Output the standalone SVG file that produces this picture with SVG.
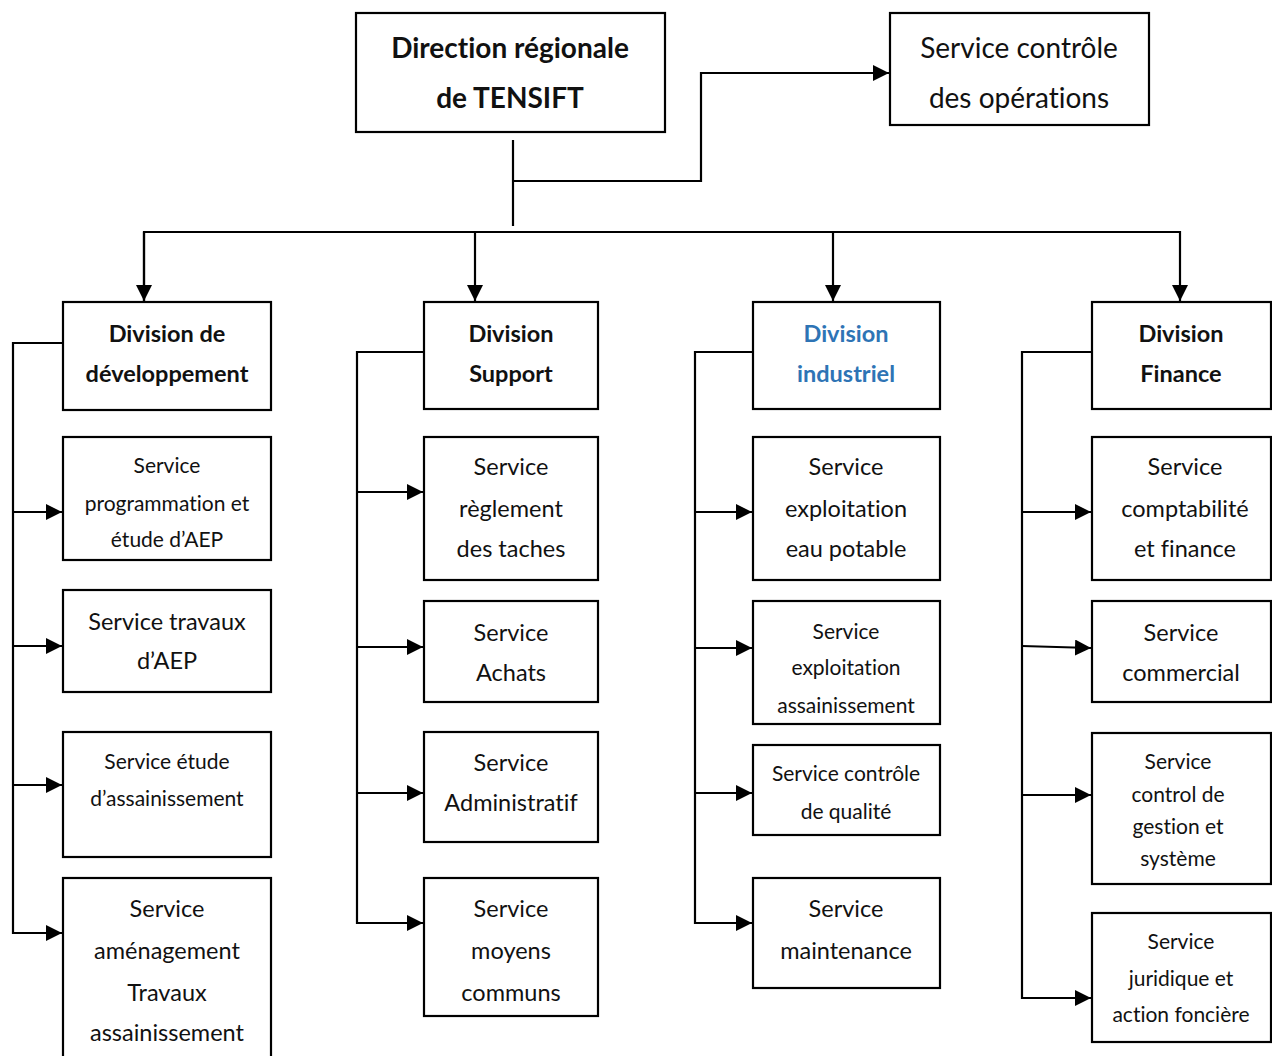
<svg xmlns="http://www.w3.org/2000/svg" width="1272" height="1056" viewBox="0 0 1272 1056">
<style>
.box{fill:#fff;stroke:#000;stroke-width:2.2}
.ln{fill:none;stroke:#000;stroke-width:2.2}
text{font-family:Lato,"Open Sans","Liberation Sans",sans-serif;text-anchor:middle;dominant-baseline:central;fill:#111;font-variant-ligatures:none}
.b{font-weight:bold}
.big{font-size:28px}
.m{font-size:23.5px}
.s{font-size:21px}
.blue{fill:#2E74B5}
</style>
<defs>
<marker id="ah" markerUnits="userSpaceOnUse" markerWidth="18" markerHeight="16" refX="16" refY="8" orient="auto">
<path d="M0,0 L16,8 L0,16 z" fill="#000"/>
</marker>
</defs>
<g id="connectors">
<path class="ln" d="M513,140 V226"/>
<path class="ln" d="M513,181 H701 V73 H889" marker-end="url(#ah)"/>
<path class="ln" d="M144,301 V232 H1180 V301" marker-end="url(#ah)"/>
<path class="ln" d="M144,232 V301" marker-end="url(#ah)"/>
<path class="ln" d="M475,232 V301" marker-end="url(#ah)"/>
<path class="ln" d="M833,232 V301" marker-end="url(#ah)"/>
<path class="ln" d="M63,343 H13 V933 H62" marker-end="url(#ah)"/>
<path class="ln" d="M13,512 H62" marker-end="url(#ah)"/>
<path class="ln" d="M13,646 H62" marker-end="url(#ah)"/>
<path class="ln" d="M13,785 H62" marker-end="url(#ah)"/>
<path class="ln" d="M424,352 H357 V923 H423" marker-end="url(#ah)"/>
<path class="ln" d="M357,492 H423" marker-end="url(#ah)"/>
<path class="ln" d="M357,647 H423" marker-end="url(#ah)"/>
<path class="ln" d="M357,793 H423" marker-end="url(#ah)"/>
<path class="ln" d="M753,352 H695 V923 H752" marker-end="url(#ah)"/>
<path class="ln" d="M695,512 H752" marker-end="url(#ah)"/>
<path class="ln" d="M695,648 H752" marker-end="url(#ah)"/>
<path class="ln" d="M695,793 H752" marker-end="url(#ah)"/>
<path class="ln" d="M1092,352 H1022 V998 H1091" marker-end="url(#ah)"/>
<path class="ln" d="M1022,512 H1091" marker-end="url(#ah)"/>
<path class="ln" d="M1022,646 L1091,648" marker-end="url(#ah)"/>
<path class="ln" d="M1022,795 H1091" marker-end="url(#ah)"/>
</g>
<g id="direction"><rect class="box" x="356" y="13" width="309" height="119"/><text class="b big" x="510" y="47">Direction régionale</text><text class="b big" x="510" y="97">de TENSIFT</text></g>
<g id="controle-operations"><rect class="box" x="890" y="13" width="259" height="112"/><text class="big" x="1019" y="47">Service contrôle</text><text class="big" x="1019" y="97">des opérations</text></g>

<g id="div-dev"><rect class="box" x="63" y="302" width="208" height="108"/><text class="b m" x="167" y="333">Division de</text><text class="b m" x="167" y="373">développement</text></g>
<g id="svc-prog"><rect class="box" x="63" y="437" width="208" height="123"/><text class="s" x="167" y="464">Service</text><text class="s" x="167" y="502">programmation et</text><text class="s" x="167" y="538">étude d’AEP</text></g>
<g id="svc-travaux-aep"><rect class="box" x="63" y="590" width="208" height="102"/><text class="m" x="167" y="621">Service travaux</text><text class="m" x="167" y="660">d’AEP</text></g>
<g id="svc-etude-ass"><rect class="box" x="63" y="732" width="208" height="125"/><text class="s" x="167" y="760">Service étude</text><text class="s" x="167" y="797">d’assainissement</text></g>
<g id="svc-amenagement"><rect class="box" x="63" y="878" width="208" height="182"/><text class="m" x="167" y="908">Service</text><text class="m" x="167" y="950">aménagement</text><text class="m" x="167" y="992">Travaux</text><text class="m" x="167" y="1032">assainissement</text></g>

<g id="div-support"><rect class="box" x="424" y="302" width="174" height="107"/><text class="b m" x="511" y="333">Division</text><text class="b m" x="511" y="373">Support</text></g>
<g id="svc-reglement"><rect class="box" x="424" y="437" width="174" height="143"/><text class="m" x="511" y="466">Service</text><text class="m" x="511" y="508">règlement</text><text class="m" x="511" y="548">des taches</text></g>
<g id="svc-achats"><rect class="box" x="424" y="601" width="174" height="101"/><text class="m" x="511" y="632">Service</text><text class="m" x="511" y="672">Achats</text></g>
<g id="svc-admin"><rect class="box" x="424" y="732" width="174" height="110"/><text class="m" x="511" y="762">Service</text><text class="m" x="511" y="802">Administratif</text></g>
<g id="svc-moyens"><rect class="box" x="424" y="878" width="174" height="138"/><text class="m" x="511" y="908">Service</text><text class="m" x="511" y="950">moyens</text><text class="m" x="511" y="992">communs</text></g>

<g id="div-industriel"><rect class="box" x="753" y="302" width="187" height="107"/><text class="b m blue" x="846" y="333">Division</text><text class="b m blue" x="846" y="373">industriel</text></g>
<g id="svc-eau-potable"><rect class="box" x="753" y="437" width="187" height="143"/><text class="m" x="846" y="466">Service</text><text class="m" x="846" y="508">exploitation</text><text class="m" x="846" y="548">eau potable</text></g>
<g id="svc-expl-ass"><rect class="box" x="753" y="601" width="187" height="123"/><text class="s" x="846" y="630">Service</text><text class="s" x="846" y="666">exploitation</text><text class="s" x="846" y="704">assainissement</text></g>
<g id="svc-qualite"><rect class="box" x="753" y="745" width="187" height="90"/><text class="s" x="846" y="772">Service contrôle</text><text class="s" x="846" y="810">de qualité</text></g>
<g id="svc-maintenance"><rect class="box" x="753" y="878" width="187" height="110"/><text class="m" x="846" y="908">Service</text><text class="m" x="846" y="950">maintenance</text></g>

<g id="div-finance"><rect class="box" x="1092" y="302" width="179" height="107"/><text class="b m" x="1181" y="333">Division</text><text class="b m" x="1181" y="373">Finance</text></g>
<g id="svc-compta"><rect class="box" x="1092" y="437" width="179" height="143"/><text class="m" x="1185" y="466">Service</text><text class="m" x="1185" y="508">comptabilité</text><text class="m" x="1185" y="548">et finance</text></g>
<g id="svc-commercial"><rect class="box" x="1092" y="601" width="179" height="101"/><text class="m" x="1181" y="632">Service</text><text class="m" x="1181" y="672">commercial</text></g>
<g id="svc-control-gestion"><rect class="box" x="1092" y="733" width="179" height="151"/><text class="s" x="1178" y="760">Service</text><text class="s" x="1178" y="793">control de</text><text class="s" x="1178" y="825">gestion et</text><text class="s" x="1178" y="857">système</text></g>
<g id="svc-juridique"><rect class="box" x="1092" y="913" width="179" height="129"/><text class="s" x="1181" y="940">Service</text><text class="s" x="1181" y="977">juridique et</text><text class="s" x="1181" y="1013">action foncière</text></g>
</svg>
